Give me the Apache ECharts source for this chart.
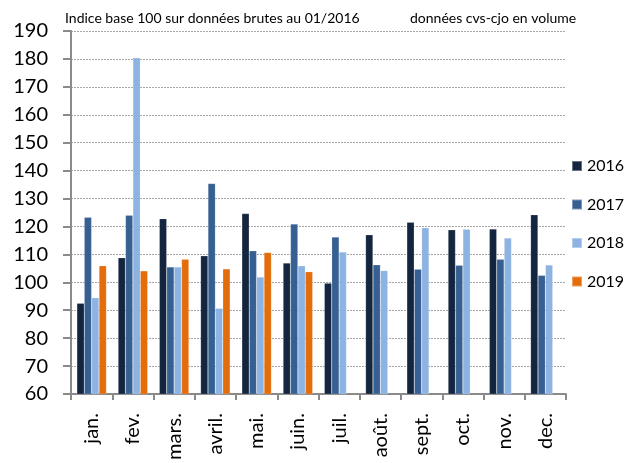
<!DOCTYPE html>
<html><head><meta charset="utf-8">
<script src="https://cdn.jsdelivr.net/npm/echarts@6/dist/echarts.min.js"></script>
<style>html,body{margin:0;padding:0;background:#fff}#c{width:624px;height:463px}</style>
</head><body><div id="c"></div>
<script>
const categories = ['jan.','fev.','mars.','avril.','mai.','juin.','juil.','août.','sept.','oct.','nov.','dec.'];
const s2016 = [92.5,108.8,122.8,109.5,124.6,106.9,99.7,117.0,121.5,118.8,119.1,124.2];
const s2017 = [123.3,124.0,105.5,135.4,111.3,120.9,116.2,106.3,104.7,106.1,108.3,102.5];
const s2018 = [94.5,180.4,105.5,90.7,101.9,105.9,110.9,104.2,119.5,119.0,115.9,106.2];
const s2019 = [105.9,104.1,108.3,104.8,110.7,103.8,null,null,null,null,null,null];
const seriesNames = ['2016','2017','2018','2019'];
const colors = ['#14263f','#376092','#8db3e2','#e46c0a'];
const yTicks = {min:60, max:190, interval:10};
const titleLeft = 'Indice base 100 sur données brutes au 01/2016';
const titleRight = 'données cvs-cjo en volume';

const FONT = 'Lato, "Open Sans", sans-serif';
const chart = echarts.init(document.getElementById('c'), null, {renderer:'canvas'});
const data = [s2016,s2017,s2018,s2019];
chart.setOption({
  animation:false,
  textStyle:{fontFamily:FONT},
  graphic:[
    {type:'text', left:65, top:11, style:{text:titleLeft, font:'14px '+FONT, fill:'#000'}},
    {type:'text', left:410, top:11, style:{text:titleRight, font:'14px '+FONT, fill:'#000'}}
  ],
  grid:{left:71, right:58, top:31, bottom:65, containLabel:false},
  legend:{
    orient:'vertical', left:571, top:158, padding:0, itemWidth:10, itemHeight:10, itemGap:22.5,
    icon:'rect', data:seriesNames,
    textStyle:{fontSize:16, fontFamily:FONT, color:'#000'}
  },
  xAxis:{
    type:'category', data:categories,
    axisLine:{lineStyle:{color:'#8a8a8a', width:2}},
    axisTick:{show:true, length:6, lineStyle:{color:'#8a8a8a', width:2}},
    axisLabel:{rotate:90, fontSize:20, color:'#000', margin:19, fontFamily:FONT}
  },
  yAxis:{
    type:'value', min:yTicks.min, max:yTicks.max, interval:yTicks.interval,
    axisLine:{show:true, lineStyle:{color:'#8a8a8a', width:2}},
    axisTick:{show:true, length:8, lineStyle:{color:'#8a8a8a', width:2}},
    axisLabel:{fontSize:20, color:'#000', margin:23, fontFamily:FONT},
    splitLine:{lineStyle:{color:'#a6a6a6', type:[2,1], width:1}}
  },
  series: seriesNames.map((n,i)=>({
    name:n, type:'bar', data:data[i], barWidth:7.4, barGap:'0%',
    itemStyle:{color:colors[i], borderColor:'rgba(255,255,255,0.35)', borderWidth:0.5}
  }))
});
</script></body></html>
